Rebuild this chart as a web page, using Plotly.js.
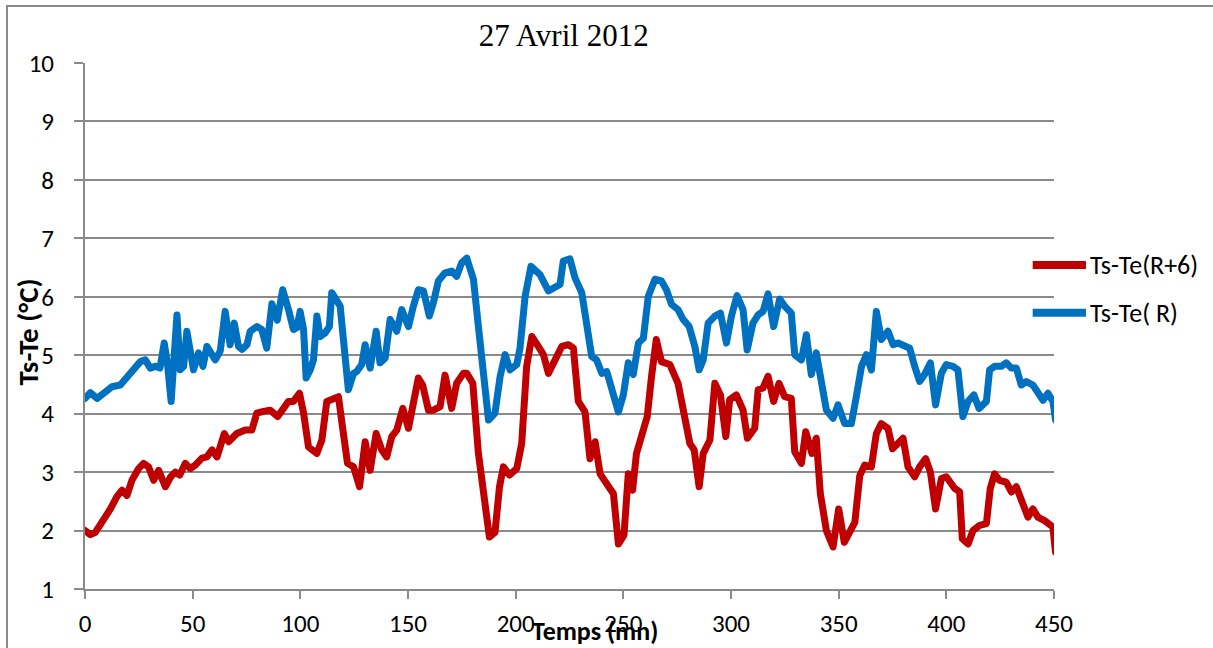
<!DOCTYPE html>
<html>
<head>
<meta charset="utf-8">
<script src="https://cdn.plot.ly/plotly-3.0.1.min.js"></script>
<style>
html,body{margin:0;padding:0;background:#fff;}
#wrap{position:relative;width:1213px;height:648px;overflow:hidden;}
#chart{width:1213px;height:648px;}
#frame{position:absolute;left:6px;top:5px;width:3000px;height:3000px;border-left:2px solid #8a8a8a;border-top:2px solid #8a8a8a;pointer-events:none;}
path.js-line{stroke-linejoin:round !important;stroke-linecap:round;}
</style>
</head>
<body>
<div id="wrap"><div id="chart"></div><div id="frame"></div></div>
<script>
// ---- Data ----
const chartTitle = "27 Avril 2012";
const xAxisTitle = "Temps (mn)";
const yAxisTitle = "Ts-Te (°C)";
const seriesNames = ["Ts-Te(R+6)", "Ts-Te( R)"];
const seriesColors = ["#C00000", "#0070C0"];

const timeRed = [0,2.5,4.8,7.1,9.4,11.8,14.8,17.2,19.5,21.8,24.9,27.2,29.5,31.9,34.2,37.3,39.8,42,44,46.6,48.9,51.2,54.3,56.6,59,61.3,64.7,66.7,70.5,74.4,77.5,79.8,82.9,86,89.5,92.2,94.5,96.8,99.6,101.5,103.8,107.7,110,112.3,114.6,117.7,120,121.9,124.7,127.5,130.1,132.4,135.2,137.8,140.1,142.5,144.8,147.6,150.2,152.5,154.8,156.8,159.5,161.8,164.9,167.2,170.3,172.6,175.7,177.3,180.1,182.7,185,187.8,190.4,192.5,194.3,197.1,200.5,202.8,205.1,207.5,210.5,212.9,215.2,218.3,221.4,224.5,226.8,229.1,232.2,234.5,236.9,239.2,242.3,245.4,247.7,250.3,252.3,254.3,256.1,258.9,261.1,263.1,265.3,267.7,271.6,275.4,278.5,280.9,282.9,285.2,287.1,290.2,292.5,295.1,297.6,299.4,302.5,305.6,307.6,311,312.6,314.9,317.2,319.8,322.3,324.9,328,329.6,332.7,334.7,337.6,339.6,341.5,344.3,347.4,350,352.6,354.4,357.5,359.8,362.1,365.2,367.5,369.8,372.9,375,377.6,379.9,382.2,385.3,387.6,390.4,392.6,395,397.7,400,403.9,406.2,407.4,410.1,412.4,415.5,418.6,420.4,422.4,424.7,427.8,430.2,432.5,434.8,437.9,440.2,442.5,445.6,447.9,449.5,450.7];
const valuesRed = [2.0,1.93,1.97,2.09,2.26,2.37,2.58,2.69,2.60,2.86,3.06,3.15,3.09,2.86,3.03,2.75,2.92,3.0,2.95,3.15,3.06,3.12,3.24,3.26,3.38,3.26,3.66,3.52,3.66,3.72,3.72,4.01,4.04,4.06,3.95,4.12,4.21,4.21,4.35,4.01,3.43,3.32,3.55,4.21,4.24,4.29,3.66,3.15,3.09,2.75,3.52,3.03,3.66,3.38,3.26,3.61,3.72,4.09,3.75,4.12,4.61,4.49,4.06,4.06,4.12,4.66,4.09,4.52,4.69,4.69,4.52,3.32,2.63,1.89,1.97,2.75,3.09,2.95,3.06,3.49,4.81,5.32,5.15,5.01,4.69,4.92,5.15,5.18,5.12,4.21,4.03,3.23,3.52,2.97,2.80,2.63,1.77,1.92,2.97,2.69,3.32,3.66,3.95,4.64,5.27,4.89,4.84,4.52,4.01,3.49,3.38,2.75,3.32,3.55,4.52,4.32,3.61,4.24,4.32,4.06,3.58,3.75,4.41,4.44,4.64,4.21,4.52,4.29,4.26,3.35,3.15,3.69,3.32,3.58,2.63,2.00,1.72,2.37,1.80,1.92,2.14,2.94,3.12,3.09,3.66,3.83,3.75,3.40,3.49,3.58,3.09,2.92,3.09,3.23,3.00,2.37,2.89,2.92,2.72,2.66,1.86,1.77,2.00,2.09,2.12,2.72,2.97,2.86,2.83,2.66,2.75,2.55,2.23,2.37,2.23,2.17,2.12,2.06,1.63];

const timeBlue = [0,2.5,5.6,8.7,12.5,16.4,18.7,21,25.7,28,30.3,32.6,34.8,36.8,38.3,40,41.5,42.7,44.2,45.8,47.3,48.9,50.4,52.7,54.8,56.6,58.9,60.5,62.8,65.1,67.4,69.3,71.3,72.9,75.2,76.7,79.8,82.1,84.4,86.8,89.3,91.8,94.5,96.8,98.4,99.9,101.5,102.7,104.6,106.1,107.7,109.2,111.5,113.5,114.6,117,118.5,120,122.3,124.7,126.2,128.5,130.1,132.4,135.2,137,139.4,141.7,144.8,147.1,150.2,152.5,154.8,157.2,159.9,161.8,164.1,167.2,170.3,172.6,174.9,177.3,180.4,182.7,185,187.4,190.4,192.8,195.1,197.4,200.5,202,204.4,207.1,211.3,215.2,220.6,222.1,225.2,227.6,230.7,233,235.3,237.6,240,242.3,245.4,247.7,250,252.3,254.6,257,259.3,261.6,264.7,267.7,270,272.4,275.4,277.8,280.6,283.2,285.2,287.1,289.4,292.5,295.1,297.9,300.2,302.8,305.6,307.5,310.2,312.6,314.9,317.2,319.8,322.6,324.9,328,329.6,332.7,335,337.3,339.6,342,344.3,347.4,349.7,352.8,355.9,358.2,360.6,362.9,365.2,367.5,369.8,372.9,375.3,377.6,379.9,383,385.3,387.6,389.9,392.6,395,397.7,400,403.1,405.4,407.7,410.1,412.8,415.2,418.6,420.1,422.4,425.5,427.8,430.2,432.5,434.8,437.1,440.2,442.5,444.9,447.2,449.5,450.7];
const valuesBlue = [4.26,4.36,4.26,4.35,4.46,4.49,4.58,4.69,4.89,4.92,4.78,4.81,4.78,5.21,4.85,4.21,4.92,5.69,4.75,4.81,5.41,5.09,4.75,5.04,4.81,5.15,4.98,4.92,5.07,5.75,5.18,5.55,5.15,5.10,5.18,5.41,5.49,5.44,5.12,5.88,5.60,6.12,5.78,5.44,5.47,5.75,5.44,4.61,4.75,4.92,5.67,5.32,5.38,5.49,6.07,5.95,5.84,5.27,4.41,4.69,4.72,4.84,5.18,4.78,5.41,4.87,4.95,5.61,5.41,5.78,5.49,5.84,6.12,6.10,5.67,5.90,6.27,6.41,6.44,6.35,6.58,6.66,6.30,5.49,4.81,3.89,4.01,4.64,5.01,4.75,4.84,5.12,6.01,6.52,6.38,6.10,6.21,6.61,6.65,6.32,6.07,5.55,4.98,4.92,4.69,4.72,4.29,4.03,4.32,4.87,4.67,5.21,5.29,6.01,6.30,6.27,6.12,5.87,5.78,5.61,5.49,5.15,4.75,4.92,5.55,5.67,5.72,5.21,5.67,6.02,5.78,5.09,5.55,5.69,5.75,6.05,5.49,5.96,5.84,5.72,5.01,4.92,5.35,4.67,5.04,4.58,4.06,3.92,4.15,3.83,3.83,4.29,4.81,5.01,4.75,5.75,5.27,5.41,5.18,5.21,5.18,5.12,4.81,4.55,4.67,4.87,4.15,4.69,4.84,4.81,4.75,3.95,4.21,4.32,4.09,4.21,4.75,4.81,4.81,4.87,4.78,4.78,4.49,4.55,4.49,4.38,4.23,4.35,4.21,3.89];

const xTicks = [0,50,100,150,200,250,300,350,400,450];
const yTicks = [1,2,3,4,5,6,7,8,9,10];

// ---- Chart ----
const FONT = "Carlito, Calibri, Lato, 'Open Sans', sans-serif";
const traces = [
  {x: timeRed, y: valuesRed, name: seriesNames[0], type: 'scatter', mode: 'lines',
   line: {color: seriesColors[0], width: 7}, showlegend: false, hoverinfo: 'skip'},
  {x: timeBlue, y: valuesBlue, name: seriesNames[1], type: 'scatter', mode: 'lines',
   line: {color: seriesColors[1], width: 7}, showlegend: false, hoverinfo: 'skip'}
];

const legendY = [0.616, 0.525];
const shapes = [];
const annotations = [];
seriesNames.forEach((n, i) => {
  shapes.push({type: 'line', xref: 'paper', yref: 'paper', x0: 0.978, x1: 1.033, y0: legendY[i], y1: legendY[i],
    line: {color: seriesColors[i], width: 8}, layer: 'above'});
  annotations.push({xref: 'paper', yref: 'paper', x: 1.035, y: legendY[i], xanchor: 'left', yanchor: 'middle',
    text: n, showarrow: false, font: {family: FONT, size: 26, color: '#000'}});
});
annotations.push({xref: 'paper', yref: 'paper', x: 0.526, y: -0.08, xanchor: 'center', yanchor: 'middle',
  text: '<b>' + xAxisTitle + '</b>', showarrow: false, font: {family: FONT, size: 26, color: '#000'}});
annotations.push({xref: 'paper', yref: 'paper', x: -0.059, y: 0.489, xanchor: 'center', yanchor: 'middle',
  text: '<b>' + yAxisTitle + '</b>', textangle: -90, showarrow: false, font: {family: FONT, size: 29, color: '#000'}});

const layout = {
  width: 1213, height: 648,
  margin: {l: 85, r: 159, t: 63, b: 59},
  paper_bgcolor: '#fff', plot_bgcolor: '#fff',
  title: {text: chartTitle, font: {family: "'Liberation Serif', 'Times New Roman', serif", size: 31, color: '#000'},
    xref: 'paper', x: 0.494, xanchor: 'center', yref: 'container', y: 0.946, yanchor: 'middle'},
  xaxis: {range: [0, 450], tickvals: xTicks, ticktext: xTicks.map(String), showgrid: false, zeroline: false,
    showline: true, linecolor: '#8a8a8a', linewidth: 2, ticks: 'outside', ticklen: 8, tickwidth: 2, tickcolor: '#8a8a8a',
    tickfont: {family: FONT, size: 25, color: '#000'}, ticklabelstandoff: 3, fixedrange: true},
  yaxis: {range: [1, 10], tickvals: yTicks, ticktext: yTicks.map(String), showgrid: true, gridcolor: '#8a8a8a', gridwidth: 2,
    zeroline: false, showline: true, linecolor: '#8a8a8a', linewidth: 2, ticks: 'outside', ticklen: 9, tickwidth: 2, tickcolor: '#8a8a8a',
    tickfont: {family: FONT, size: 25, color: '#000'}, ticklabelstandoff: 15, fixedrange: true},
  shapes: shapes,
  annotations: annotations
};

Plotly.newPlot('chart', traces, layout, {displayModeBar: false, staticPlot: true});
</script>
</body>
</html>
